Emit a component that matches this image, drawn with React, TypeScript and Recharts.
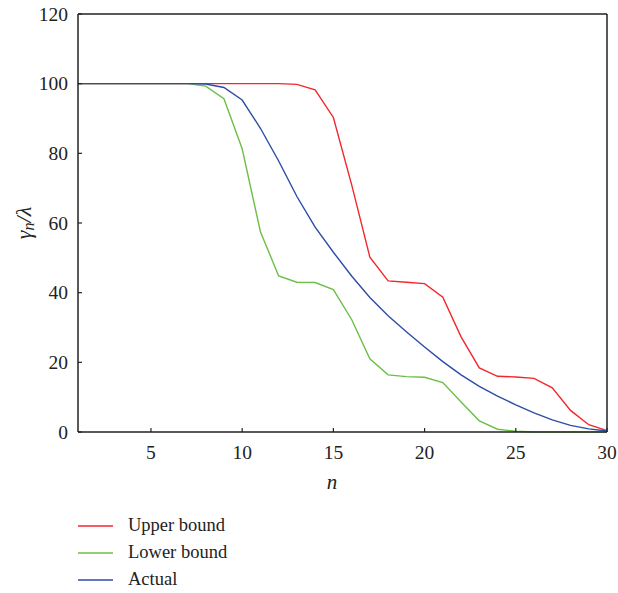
import React from "react";
import { LineChart, Line, XAxis, YAxis, Legend, ReferenceLine } from "recharts";

const nValues = [1, 2, 3, 4, 5, 6, 7, 8, 9, 10, 11, 12, 13, 14, 15, 16, 17, 18, 19, 20, 21, 22, 23, 24, 25, 26, 27, 28, 29, 30];
const upperBound = [100, 100, 100, 100, 100, 100, 100, 100, 100, 100, 100, 100, 99.8, 98.2, 90.3, 71, 50.2, 43.4, 43.0, 42.6, 38.7, 27.3, 18.4, 16.0, 15.8, 15.4, 12.7, 6.2, 2.1, 0.4];
const lowerBound = [100, 100, 100, 100, 100, 100, 100, 99.3, 95.7, 81.3, 57.5, 44.8, 43.0, 42.9, 40.9, 32.3, 21.0, 16.4, 15.9, 15.7, 14.2, 8.6, 3.2, 0.8, 0.2, 0, 0, 0, 0, 0];
const actual = [100, 100, 100, 100, 100, 100, 100, 99.9, 98.9, 95.3, 87.2, 77.8, 67.6, 58.8, 51.6, 44.8, 38.6, 33.4, 28.8, 24.4, 20.2, 16.4, 13.1, 10.3, 7.8, 5.5, 3.5, 1.9, 0.9, 0.3];
const xTicks = [5, 10, 15, 20, 25, 30];
const yTicks = [0, 20, 40, 60, 80, 100, 120];

const seriesNames = ["Upper bound", "Lower bound", "Actual"];
const seriesColors = ["#f2272c", "#6cbf46", "#2c4da6"];

const data = nValues.map((n, i) => ({
  n,
  upper: upperBound[i],
  lower: lowerBound[i],
  actual: actual[i],
}));

const FONT = "'Liberation Serif', 'Times New Roman', serif";
const PLOT_LEFT = 70;
const PLOT_BOTTOM = 424;

const YTick = (props: any) => {
  const { y, payload } = props;
  return (
    <g>
      <line x1={PLOT_LEFT} x2={PLOT_LEFT + 4} y1={y} y2={y} stroke="#222" strokeWidth={1.2} />
      <text x={PLOT_LEFT - 10} y={y} dy={6.5} textAnchor="end" fontFamily={FONT} fontSize={19.5} fill="#222">
        {payload.value}
      </text>
    </g>
  );
};

const XTick = (props: any) => {
  const { x, payload } = props;
  return (
    <g>
      <line x1={x} x2={x} y1={PLOT_BOTTOM} y2={PLOT_BOTTOM - 4} stroke="#222" strokeWidth={1.2} />
      <text x={x} y={PLOT_BOTTOM + 27} textAnchor="middle" fontFamily={FONT} fontSize={19.5} fill="#222">
        {payload.value}
      </text>
    </g>
  );
};

const YLabel = () => (
  <text
    x={15}
    y={215}
    transform="rotate(-90, 15, 215)"
    textAnchor="middle"
    dominantBaseline="central"
    fontFamily={FONT}
    fontSize={22}
    fontStyle="italic"
    fill="#222"
  >
    <tspan>γ</tspan>
    <tspan fontSize={16} dy={5}>n</tspan>
    <tspan dy={-5}>/λ</tspan>
  </text>
);

const XLabel = () => (
  <text x={324} y={481} textAnchor="middle" fontFamily={FONT} fontSize={21} fontStyle="italic" fill="#222">
    n
  </text>
);

const LegendContent = () => (
  <div style={{ fontFamily: FONT, fontSize: 18.5, color: "#222" }}>
    {seriesNames.map((name, i) => (
      <div key={name} style={{ display: "flex", alignItems: "center", height: 27 }}>
        <svg width={35} height={4} style={{ marginRight: 15 }}>
          <line x1={0} x2={35} y1={2} y2={2} stroke={seriesColors[i]} strokeWidth={1.5} />
        </svg>
        <span>{name}</span>
      </div>
    ))}
  </div>
);

export default function App() {
  return (
    <div style={{ position: "relative", width: 618, height: 593, padding: 8, boxSizing: "border-box", overflow: "hidden" }}>
      <style>{"html,body{margin:0;padding:0;overflow:hidden}.recharts-surface,.recharts-wrapper{overflow:visible !important}"}</style>
      <LineChart width={610} height={585} data={data} margin={{ top: 6, right: 11, left: 0, bottom: 20 }}>
        <XAxis
          dataKey="n"
          type="number"
          domain={[1, 30]}
          ticks={xTicks}
          tick={<XTick />}
          tickLine={false}
          axisLine={{ stroke: "#222", strokeWidth: 1.5 }}
          height={60}
          interval={0}
          label={<XLabel />}
        />
        <YAxis
          type="number"
          domain={[0, 120]}
          ticks={yTicks}
          tick={<YTick />}
          tickLine={false}
          axisLine={{ stroke: "#222", strokeWidth: 1.5 }}
          width={70}
          interval={0}
          label={<YLabel />}
        />
        <ReferenceLine y={120} stroke="#222" strokeWidth={1.5} ifOverflow="visible" />
        <ReferenceLine x={30} stroke="#222" strokeWidth={1.5} ifOverflow="visible" />
        <Legend
          verticalAlign="bottom"
          layout="horizontal"
          content={<LegendContent />}
          wrapperStyle={{ position: "absolute", top: 504, left: 70, bottom: "auto", width: 300, height: 81 }}
        />
        <Line dataKey="upper" name={seriesNames[0]} stroke={seriesColors[0]} strokeWidth={1.4} dot={false} isAnimationActive={false} type="linear" />
        <Line dataKey="lower" name={seriesNames[1]} stroke={seriesColors[1]} strokeWidth={1.4} dot={false} isAnimationActive={false} type="linear" />
        <Line dataKey="actual" name={seriesNames[2]} stroke={seriesColors[2]} strokeWidth={1.4} dot={false} isAnimationActive={false} type="linear" />
      </LineChart>
    </div>
  );
}
